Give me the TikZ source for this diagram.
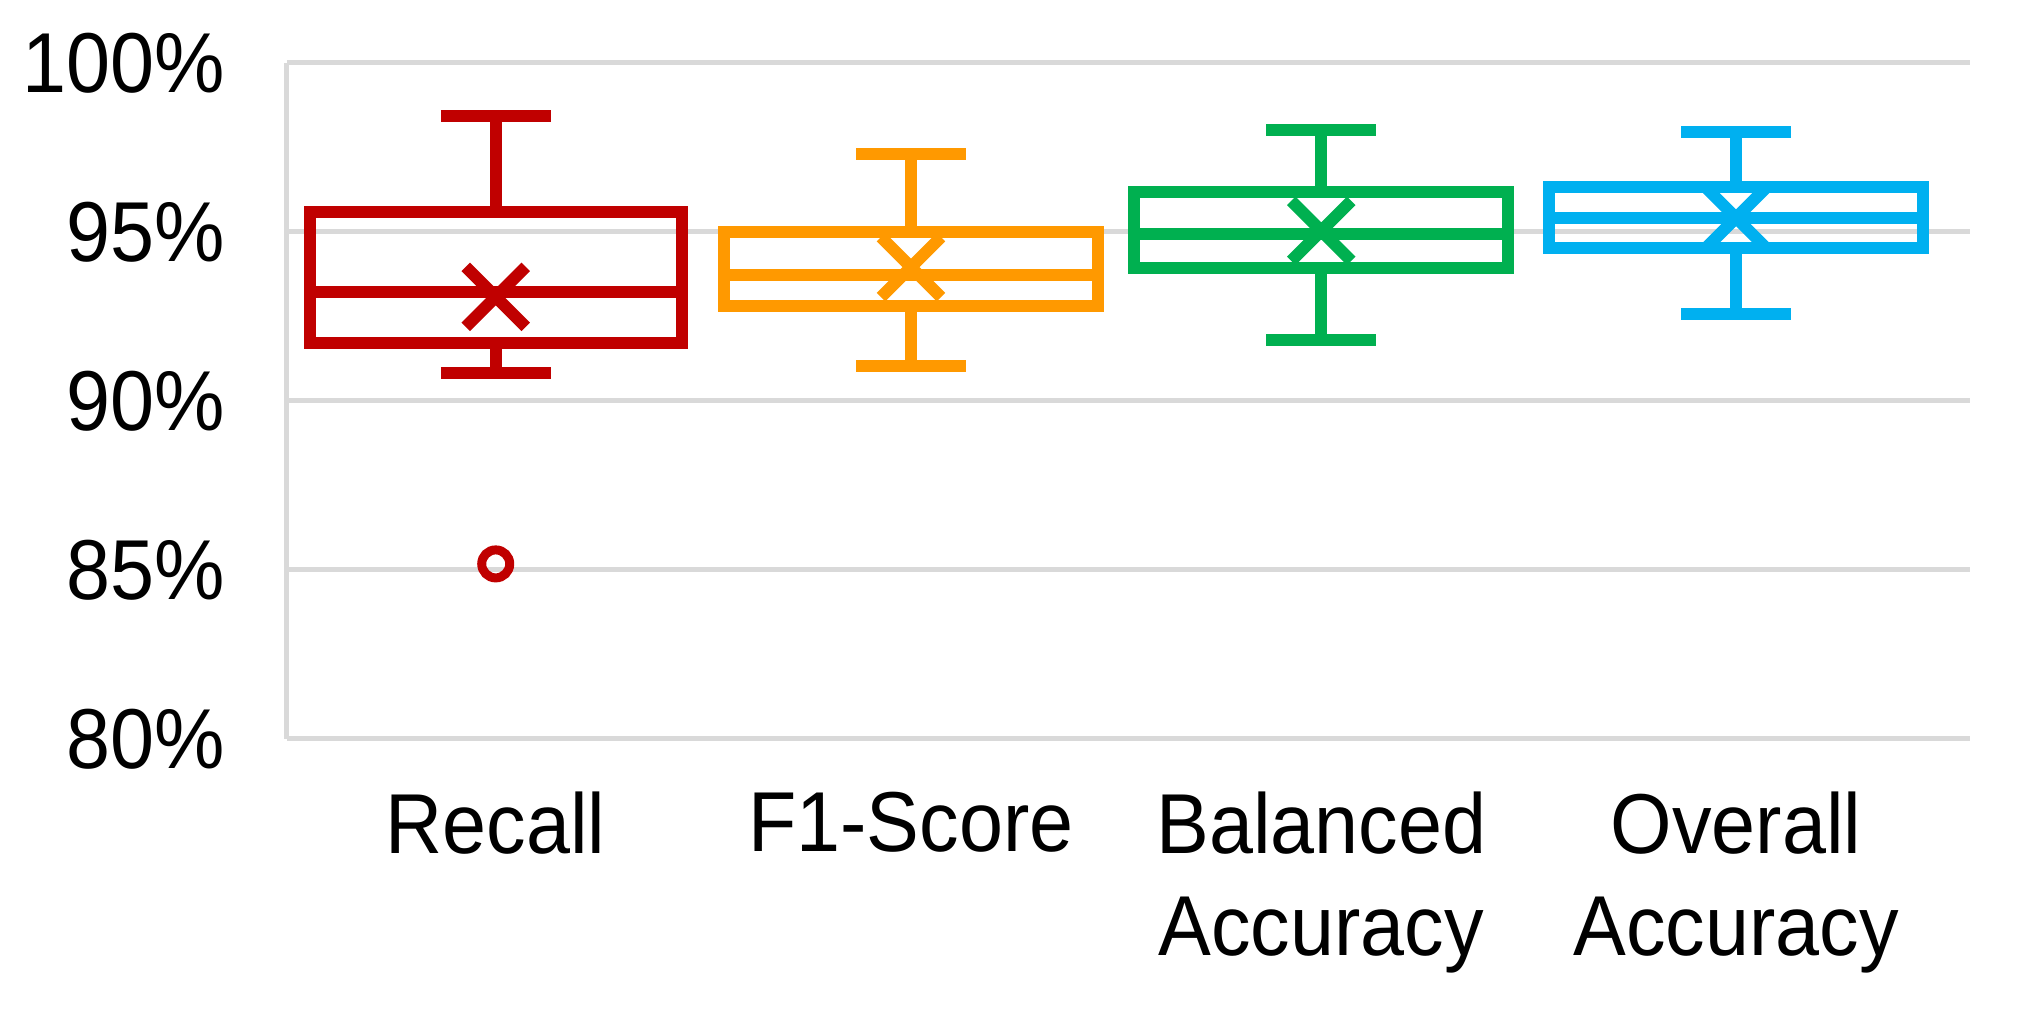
\documentclass[tikz,border=0pt]{standalone}
\usepackage{fontspec}
\setmainfont{Liberation Sans}[FakeStretch=0.93]
\usepackage{tikz}
\usetikzlibrary{shapes.misc}
\definecolor{recallred}{HTML}{C00000}
\definecolor{fscoreorange}{HTML}{FF9900}
\definecolor{balgreen}{HTML}{00B050}
\definecolor{overblue}{HTML}{00B0F0}
\definecolor{gridgray}{HTML}{D9D9D9}

\begin{document}
\begin{tikzpicture}[x=0.01cm, y=0.338cm,
    tick label/.style={anchor=east, inner sep=0pt, font=\fontsize{24.2}{29}\selectfont},
    cat label/.style={anchor=north, inner sep=0pt, align=center, font=\fontsize{24.2}{29}\selectfont},
    grid line/.style={gridgray, line width=0.05cm},
    box line/.style={line width=0.12cm},
    mean mark/.style={cross out, draw, line width=0.12cm, minimum size=0.48cm, inner sep=0pt},
    outlier mark/.style={circle, draw, line width=0.09cm, minimum size=0.28cm, inner sep=0pt}]

    \useasboundingbox (0cm,-2.87cm) rectangle (20.3cm,7.39cm);

    % grid and axis
    \draw [grid line] (287,0) -- (1971,0);
    \draw [grid line] (287,5) -- (1971,5);
    \draw [grid line] (287,10) -- (1971,10);
    \draw [grid line] (287,15) -- (1971,15);
    \draw [grid line] (287,20) -- (1971,20);
    \draw [grid line] (287,0) -- (287,20);

    \node [tick label] (t80) at (226,0) {80\%};
    \node [tick label] (t85) at (226,5) {85\%};
    \node [tick label] (t90) at (226,10) {90\%};
    \node [tick label] (t95) at (226,15) {95\%};
    \node [tick label] (t100) at (226,20) {100\%};

    % Recall
    \draw [box line, recallred] (310,11.72) rectangle (682,15.59);
    \draw [box line, recallred] (310,13.22) -- (682,13.22);
    \draw [box line, recallred] (496,15.59) -- (496,18.43);
    \draw [box line, recallred] (441,18.43) -- (551,18.43);
    \draw [box line, recallred] (496,11.72) -- (496,10.83);
    \draw [box line, recallred] (441,10.83) -- (551,10.83);
    \node [mean mark, recallred] (mean recall) at (496,13.08) {};
    \node [outlier mark, recallred] (out recall) at (496,5.18) {};

    % F1-Score
    \draw [box line, fscoreorange] (724.5,12.8) rectangle (1098.5,15.0);
    \draw [box line, fscoreorange] (724.5,13.73) -- (1098.5,13.73);
    \draw [box line, fscoreorange] (911.5,15.0) -- (911.5,17.3);
    \draw [box line, fscoreorange] (856.5,17.3) -- (966.5,17.3);
    \draw [box line, fscoreorange] (911.5,12.8) -- (911.5,11.04);
    \draw [box line, fscoreorange] (856.5,11.04) -- (966.5,11.04);
    \node [mean mark, fscoreorange] (mean fscore) at (911.5,13.96) {};

    % Balanced Accuracy
    \draw [box line, balgreen] (1135,13.93) rectangle (1509,16.18);
    \draw [box line, balgreen] (1135,14.94) -- (1509,14.94);
    \draw [box line, balgreen] (1322,16.18) -- (1322,18.02);
    \draw [box line, balgreen] (1267,18.02) -- (1377,18.02);
    \draw [box line, balgreen] (1322,13.93) -- (1322,11.8);
    \draw [box line, balgreen] (1267,11.8) -- (1377,11.8);
    \node [mean mark, balgreen] (mean balanced) at (1322,15.03) {};

    % Overall Accuracy
    \draw [box line, overblue] (1550,14.53) rectangle (1924,16.33);
    \draw [box line, overblue] (1550,15.41) -- (1924,15.41);
    \draw [box line, overblue] (1737,16.33) -- (1737,17.96);
    \draw [box line, overblue] (1682,17.96) -- (1792,17.96);
    \draw [box line, overblue] (1737,14.53) -- (1737,12.57);
    \draw [box line, overblue] (1682,12.57) -- (1792,12.57);
    \node [mean mark, overblue] (mean overall) at (1737,15.42) {};

    \node [cat label] (recall) at (496,-1.54) {Recall};
    \node [cat label] (fscore) at (911.5,-1.54) {F1-Score};
    \node [cat label] (balanced) at (1322,-1.54) {Balanced\\Accuracy};
    \node [cat label] (overall) at (1737,-1.54) {Overall\\Accuracy};

\end{tikzpicture}
\end{document}
